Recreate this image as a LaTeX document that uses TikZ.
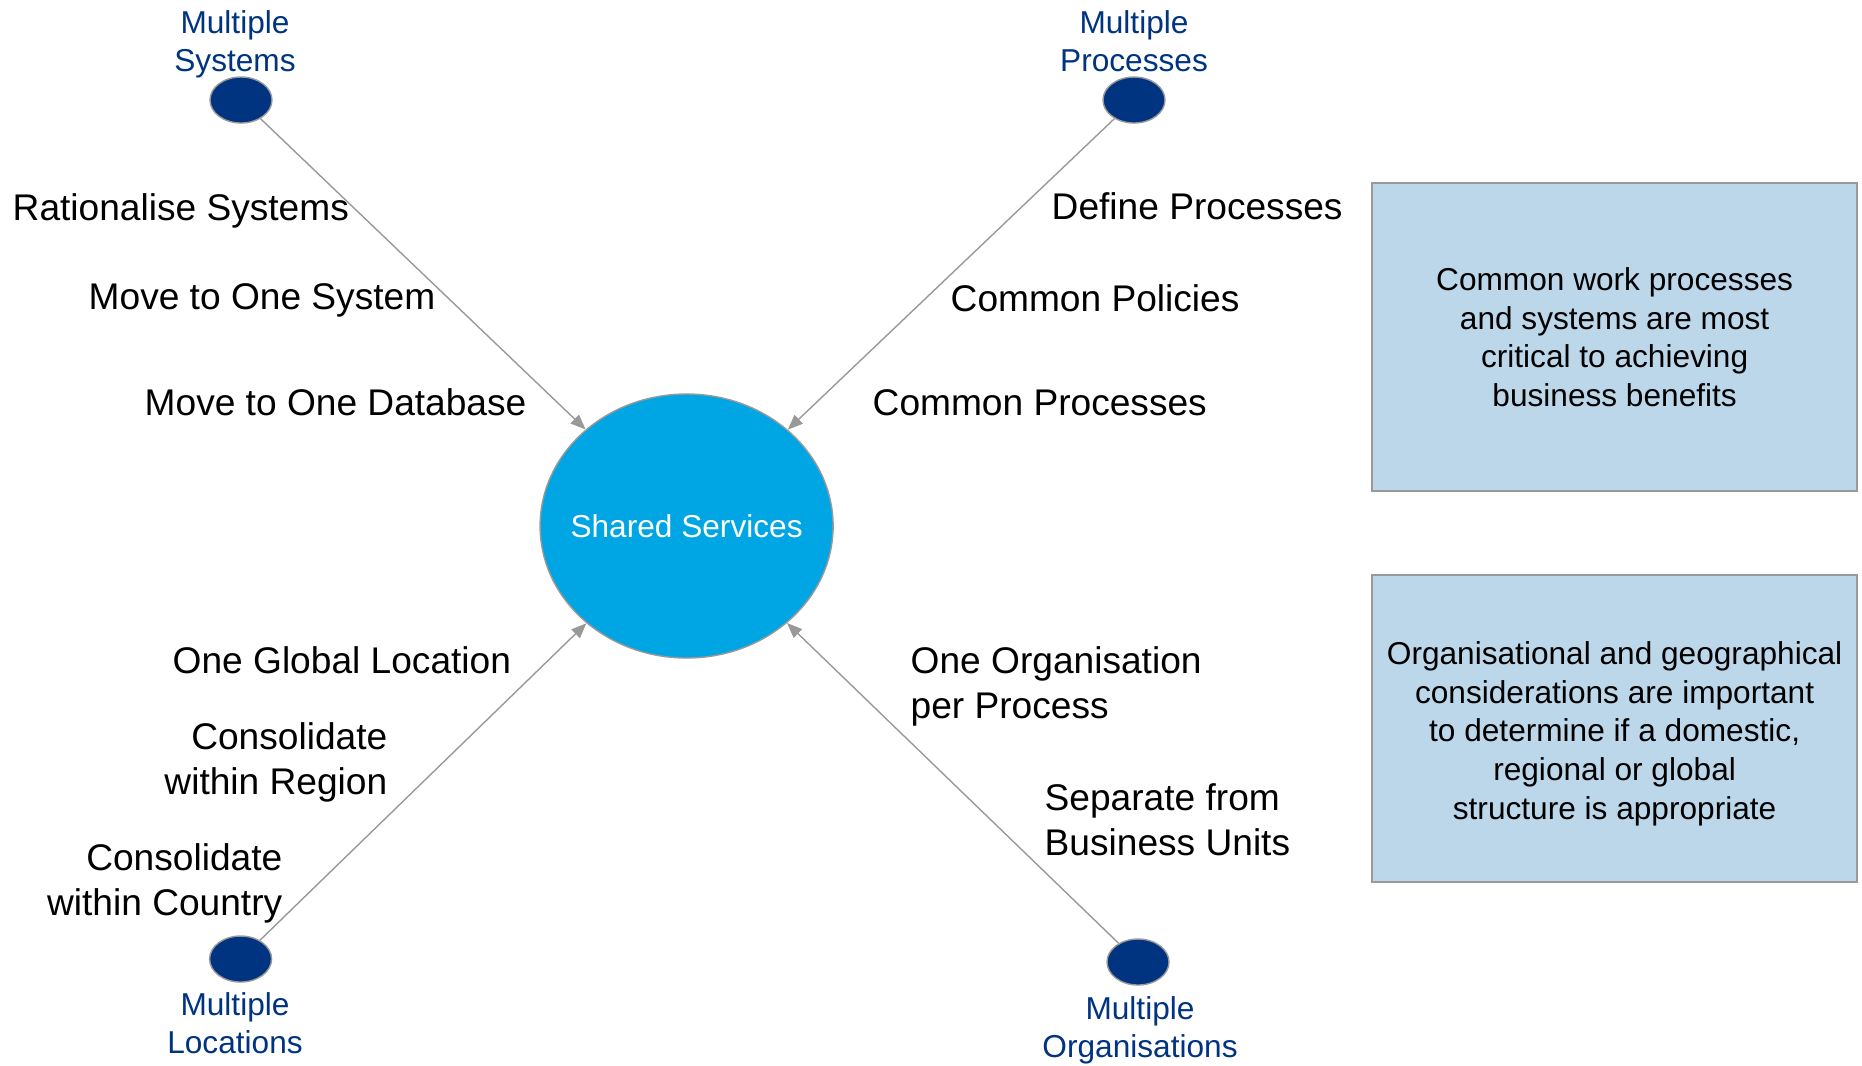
\documentclass[tikz,border=0pt]{standalone}
\usepackage{fontspec}
\setmainfont{Liberation Sans}
\usetikzlibrary{shapes.geometric,arrows.meta,positioning}
\definecolor{navy}{RGB}{0,51,128}
\definecolor{sky}{RGB}{0,166,228}
\definecolor{pale}{RGB}{189,215,234}
\definecolor{rim}{RGB}{153,153,153}

\begin{document}
\begin{tikzpicture}[scale=0.2]
        \tikzstyle{every node}+=[inner sep=0pt]
        \tikzstyle{hub}=[ellipse, draw=rim, line width=0.4pt, fill=sky, minimum width=2.93cm, minimum height=2.64cm]
        \tikzstyle{source}=[ellipse, draw=rim, line width=0.4pt, fill=navy, minimum width=0.62cm, minimum height=0.46cm]
        \tikzstyle{sourcelbl}=[text=navy, align=center, font=\fontsize{9}{10.8}\selectfont]
        \tikzstyle{action}=[text=black, font=\fontsize{10.56}{12.8}\selectfont]
        \tikzstyle{note}=[draw=rim, line width=0.4pt, fill=pale, minimum width=4.85cm, minimum height=3.08cm, align=center, font=\fontsize{9}{11}\selectfont]
        \tikzstyle{link}=[draw=rim, line width=0.4pt, -{Triangle[length=4.3pt,width=3.4pt]}]
        \useasboundingbox (0,0) rectangle (93.1,-53.25);
        \node [hub] (ss) at (34.33,-26.3) {};
        \node [text=white, font=\fontsize{9}{10.8}\selectfont] (sstext) at (ss.center) {Shared Services};
        \node [source] (sys) at (12.05,-5) {};
        \node [sourcelbl] (syslbl) at (11.75,-2.2) {Multiple\\Systems};
        \node [source] (proc) at (56.7,-5) {};
        \node [sourcelbl] (proclbl) at (56.7,-2.08) {Multiple\\Processes};
        \node [source] (loc) at (12.03,-47.95) {};
        \node [sourcelbl] (loclbl) at (11.75,-51.15) {Multiple\\Locations};
        \node [source] (org) at (56.9,-48.1) {};
        \node [sourcelbl] (orglbl) at (57,-51.52) {Multiple\\Organisations};
        \draw [link] (sys) -- (ss);
        \draw [link] (proc) -- (ss);
        \draw [link] (loc) -- (ss);
        \draw [link] (org) -- (ss);
        \node [action, anchor=west] (ratsys) at (0.6,-10.53) {Rationalise Systems};
        \node [action, anchor=west] (onesys) at (4.4,-15.03) {Move to One System};
        \node [action, anchor=west] (onedb) at (7.2,-20.13) {Move to One Database};
        \node [action, anchor=west] (defproc) at (52.55,-10.33) {Define Processes};
        \node [action, anchor=west] (compol) at (47.5,-14.9) {Common Policies};
        \node [action, anchor=west] (comproc) at (43.6,-20.13) {Common Processes};
        \node [action, anchor=west] (oneglob) at (8.6,-33) {One Global Location};
        \node [action, anchor=east, align=right] (conreg) at (19.4,-38.13) {Consolidate\\within Region};
        \node [action, anchor=east, align=right] (concty) at (14.15,-44.18) {Consolidate\\within Country};
        \node [action, anchor=west, align=left] (oneorg) at (45.5,-34.33) {One Organisation\\per Process};
        \node [action, anchor=west, align=left] (sepbu) at (52.2,-41.01) {Separate from\\Business Units};
        \node [note] (note1) at (80.73,-16.85) {Common work processes\\and systems are most\\critical to achieving\\business benefits};
        \node [note, minimum height=3.07cm] (note2) at (80.73,-36.43) {\rule{0pt}{9.3pt}Organisational and geographical\\considerations are important\\to determine if a domestic,\\regional or global\\structure is appropriate};
\end{tikzpicture}
\end{document}
